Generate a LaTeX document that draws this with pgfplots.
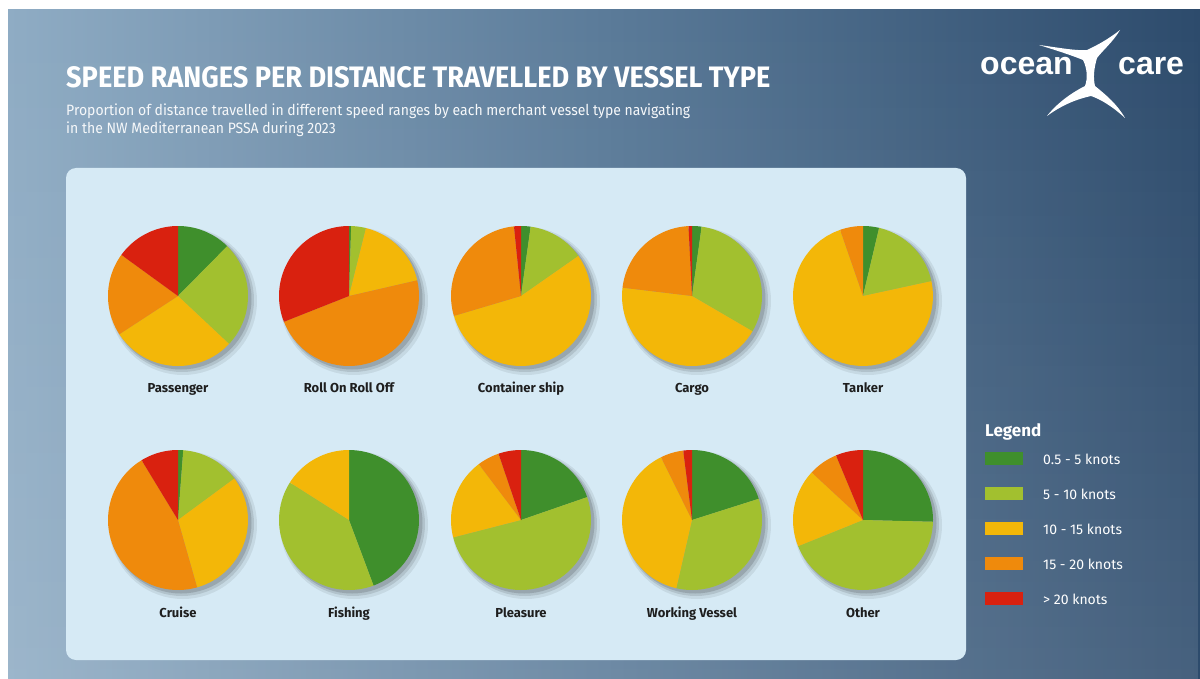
\documentclass[border=0pt]{standalone}
\usepackage{pgfplots}
\pgfplotsset{compat=1.18}
\usetikzlibrary{fadings}
\usepackage{graphicx}
\usepackage{fontspec}
\setmainfont{Fira Sans}
\newfontfamily\logofont{Liberation Sans}

\definecolor{c1}{HTML}{3F8F2C}
\definecolor{c2}{HTML}{A2C02F}
\definecolor{c3}{HTML}{F3B708}
\definecolor{c4}{HTML}{EF8A0C}
\definecolor{c5}{HTML}{D9210F}
\definecolor{bgL}{HTML}{8FACC4}
\definecolor{bgM}{HTML}{5B7B99}
\definecolor{bgR}{HTML}{2D4B6C}
\definecolor{panel}{HTML}{D6EAF5}
\definecolor{labtxt}{HTML}{1E1E1E}

% one slice, clockwise from 12 o'clock, angles in degrees
\newcommand{\slice}[5]{\ifdim#4pt>#3pt\relax
  \edef\doslice{\noexpand\addplot[draw=none,fill=#5,domain=#3:#4,samples=45]
    ({#1+70*sin(x)},{#2-70*cos(x)}) -- (#1,#2) -- cycle;}\doslice\fi}

\newcommand{\pie}[7]{%
  \pgfmathsetmacro\tot{#3+#4+#5+#6+#7}%
  \pgfmathsetmacro\aA{0}%
  \pgfmathsetmacro\aB{360*((#3)/\tot)}%
  \pgfmathsetmacro\aC{360*((#3+#4)/\tot)}%
  \pgfmathsetmacro\aD{360*((#3+#4+#5)/\tot)}%
  \pgfmathsetmacro\aE{360*((#3+#4+#5+#6)/\tot)}%
  \pgfmathsetmacro\aF{360}%
  \addplot[draw=none,fill=black,fill opacity=0.07,domain=0:360,samples=73]
    ({#1+5+74*sin(x)},{#2+5-74*cos(x)});
  \addplot[draw=none,fill=black,fill opacity=0.10,domain=0:360,samples=73]
    ({#1+4+72*sin(x)},{#2+4-72*cos(x)});
  \addplot[draw=none,fill=black,fill opacity=0.14,domain=0:360,samples=73]
    ({#1+3+70.5*sin(x)},{#2+3-70.5*cos(x)});
  \slice{#1}{#2}{\aA}{\aB}{c1}%
  \slice{#1}{#2}{\aB}{\aC}{c2}%
  \slice{#1}{#2}{\aC}{\aD}{c3}%
  \slice{#1}{#2}{\aD}{\aE}{c4}%
  \slice{#1}{#2}{\aE}{\aF}{c5}%
}

\newlength\subw
\newcommand{\subfont}{\fontsize{15}{18}\selectfont}
\begin{document}
\settowidth\subw{\subfont Proportion of distance travelled in different speed ranges by each merchant vessel type navigating}%
\pgfmathsetmacro\subsc{624/\subw}%
\begin{tikzpicture}
\begin{scope}[x=1pt,y=-1pt]
  \fill[white] (0,0) rectangle (1200,679);
  \shade[left color=bgL, right color=bgR, middle color=bgM] (8,10) rectangle (1200,679);
  \fill[white, fill opacity=0.12, path fading=north] (8,10) rectangle (1200,679);
  \fill[panel, rounded corners=10pt] (66,168) rectangle (966,660);
  % title
  \node[anchor=base west, inner sep=0pt, text=white] at (66,88)
    {\resizebox{704pt}{21pt}{\bfseries SPEED RANGES PER DISTANCE TRAVELLED BY VESSEL TYPE}};
  % subtitle
  \node[anchor=base west, inner sep=0pt, text=white!92!bgL] at (66,116)
    {\scalebox{\subsc}[1]{\subfont Proportion of distance travelled in different speed ranges by each merchant vessel type navigating}};
  \node[anchor=base west, inner sep=0pt, text=white!92!bgL] at (66,134)
    {\scalebox{\subsc}[1]{\subfont in the NW Mediterranean PSSA during 2023}};
  % logo
  \node[anchor=base west, inner sep=0pt, text=white] at (980,75) {\logofont\bfseries\fontsize{32}{36}\selectfont ocean};
  \node[anchor=base west, inner sep=0pt, text=white] at (1118,75) {\logofont\bfseries\fontsize{32}{36}\selectfont care};
  \fill[white] (1039,45)
     .. controls (1055,47) and (1075,51) .. (1087,50)
     .. controls (1098,45) and (1110,38) .. (1120,30)
     .. controls (1113,42) and (1103,50) .. (1097,58)
     .. controls (1094,68) and (1093,78) .. (1095,86)
     .. controls (1106,95) and (1117,104) .. (1125,118)
     .. controls (1112,106) and (1100,99) .. (1091,96)
     .. controls (1077,99) and (1062,105) .. (1047,116)
     .. controls (1058,102) and (1073,92) .. (1085,86)
     .. controls (1088,78) and (1087,68) .. (1083,60)
     .. controls (1071,55) and (1055,50) .. (1039,45) -- cycle;
  % legend
  \node[anchor=base west, inner sep=0pt, text=white] at (985,436) {\bfseries\fontsize{17}{20}\selectfont Legend};
  \fill[c1] (985,452) rectangle (1023,465);
  \fill[c2] (985,487) rectangle (1023,500);
  \fill[c3] (985,522) rectangle (1023,535);
  \fill[c4] (985,557) rectangle (1023,570);
  \fill[c5] (985,592) rectangle (1023,605);
  \node[anchor=base west, inner sep=0pt, text=white] at (1043,464) {\fontsize{14}{16}\selectfont 0.5 - 5 knots};
  \node[anchor=base west, inner sep=0pt, text=white] at (1043,499) {\fontsize{14}{16}\selectfont 5 - 10 knots};
  \node[anchor=base west, inner sep=0pt, text=white] at (1043,534) {\fontsize{14}{16}\selectfont 10 - 15 knots};
  \node[anchor=base west, inner sep=0pt, text=white] at (1043,569) {\fontsize{14}{16}\selectfont 15 - 20 knots};
  \node[anchor=base west, inner sep=0pt, text=white] at (1043,604) {\fontsize{14}{16}\selectfont > 20 knots};
\end{scope}

\begin{axis}[at={(0,0)}, anchor=north west, width=1200pt, height=679pt,
  scale only axis, xmin=0, xmax=1200, ymin=0, ymax=679, y dir=reverse,
  hide axis, clip=false]
  % cx, cy, 0.5-5, 5-10, 10-15, 15-20, >20 knots (percent of distance)
  \pie{178}{296}{12.4}{24.6}{28.8}{19.2}{15.0}
  \pie{349}{296}{0.5}{3.4}{17.5}{47.6}{31.0}
  \pie{521}{296}{2.2}{13.1}{55.1}{28.0}{1.6}
  \pie{692}{296}{2.2}{31.2}{43.5}{22.3}{0.8}
  \pie{863}{296}{3.7}{17.9}{73.1}{5.3}{0}
  \pie{178}{520}{1.2}{13.7}{30.7}{45.7}{8.7}
  \pie{349}{520}{44.3}{39.7}{16.0}{0}{0}
  \pie{521}{520}{19.7}{51.3}{18.7}{5.1}{5.2}
  \pie{692}{520}{20.1}{33.5}{39.1}{5.3}{2.0}
  \pie{863}{520}{25.4}{43.5}{18.0}{6.8}{6.3}
\end{axis}

\begin{scope}[x=1pt,y=-1pt, every node/.style={anchor=base, inner sep=0pt, text=labtxt, font=\bfseries\fontsize{13}{15}\selectfont}]
  \node at (178,392) {Passenger};
  \node at (349,392) {Roll On Roll Off};
  \node at (521,392) {Container ship};
  \node at (692,392) {Cargo};
  \node at (863,392) {Tanker};
  \node at (178,617) {Cruise};
  \node at (349,617) {Fishing};
  \node at (521,617) {Pleasure};
  \node at (692,617) {Working Vessel};
  \node at (863,617) {Other};
\end{scope}
\end{tikzpicture}
\end{document}
